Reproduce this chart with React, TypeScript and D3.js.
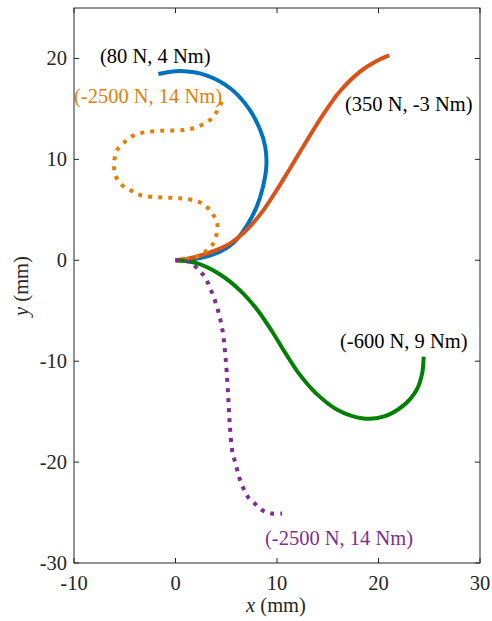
import React from "react";
import * as d3 from "d3";

const xTicks = [-10, 0, 10, 20, 30];
const yTicks = [-30, -20, -10, 0, 10, 20];

// (80 N, 4 Nm)
const blueX = [0, 1.75, 4.06, 5.69, 7.0, 8.0, 8.6, 8.95, 8.85, 8.35, 7.25, 5.45, 3.1, 0.5, -1.69];
const blueY = [0, 0.1, 0.7, 1.7, 3.4, 5.3, 7.2, 9.3, 11.2, 12.9, 15.0, 17.0, 18.3, 18.75, 18.46];

// (350 N, -3 Nm)
const redX = [0, 1.75, 4.06, 5.5, 7.0, 8.5, 10.0, 11.28, 12.93, 14.56, 16.2, 18.18, 19.82, 21.06];
const redY = [0, 0.27, 1.03, 1.75, 3.0, 4.75, 7.0, 9.1, 11.85, 14.45, 16.75, 18.7, 19.75, 20.3];

// (-600 N, 9 Nm)
const greenX = [0, 2.08, 4.35, 6.36, 8.07, 9.52, 10.88, 12.26, 13.83, 15.88, 18.5, 20.47, 22.44, 23.75, 24.3, 24.45];
const greenY = [0, -0.29, -1.38, -2.98, -4.92, -7.06, -9.28, -11.36, -13.17, -14.78, -15.67, -15.5, -14.4, -12.85, -11.2, -9.55];

// (-2500 N, 14 Nm) orange dotted
const orangeX = [0, 2.09, 3.72, 4.12, 3.72, 3.07, 2.25, 0.44, -1.53, -3.5, -4.48, -5.3, -5.86, -6.06, -5.96, -5.64, -4.98, -4.16, -3.17, -1.36, 0.77, 1.75, 2.58, 3.4, 4.06, 4.55];
const orangeY = [0, 0.36, 1.67, 3.65, 4.49, 5.31, 5.81, 6.14, 6.24, 6.47, 6.97, 7.47, 8.29, 9.28, 10.27, 11.1, 11.75, 12.35, 12.65, 12.84, 12.91, 13.08, 13.4, 13.9, 14.72, 15.72];

// (-2500 N, 14 Nm) purple dotted
const purpleX = [0, 1.26, 2.74, 3.56, 4.22, 4.65, 4.88, 5.04, 5.2, 5.35, 5.57, 5.8, 6.06, 6.3, 6.65, 7.1, 7.8, 8.6, 9.5, 10.5];
const purpleY = [0, -0.14, -1.46, -3.11, -5.09, -7.07, -9.05, -11.03, -13.67, -16.3, -18.76, -19.75, -20.7, -21.6, -22.5, -23.4, -24.1, -24.8, -25.1, -25.1];

const labels = ["(80 N, 4 Nm)", "(-2500 N, 14 Nm)", "(350 N, -3 Nm)", "(-600 N, 9 Nm)", "(-2500 N, 14 Nm)"];

const W = 492, H = 621;
const L = 74, R = 480, T = 8, B = 563;
const FONT = "Liberation Serif";
const AX = "#262626";

export default function App() {
  const x = d3.scaleLinear().domain([-10, 30]).range([L, R]);
  const y = d3.scaleLinear().domain([-30, 25]).range([B, T]);
  const line = d3.line<[number, number]>()
    .x(d => x(d[0])).y(d => y(d[1]))
    .curve(d3.curveCatmullRom.alpha(0.5));
  const pts = (xs: number[], ys: number[]) => xs.map((v, i) => [v, ys[i]] as [number, number]);

  const series = [
    { d: pts(blueX, blueY), c: "#0072BD", dash: undefined },
    { d: pts(redX, redY), c: "#D95319", dash: undefined },
    { d: pts(greenX, greenY), c: "#008000", dash: undefined },
    { d: pts(orangeX, orangeY), c: "#E0820A", dash: "4 6" },
    { d: pts(purpleX, purpleY), c: "#7E2F8E", dash: "4 6" },
  ];
  const tl = 5;
  const ts = { fontFamily: FONT, fontSize: "20.5px" };

  return (
    <svg width={W} height={H} style={{ position: "absolute", left: 0, top: 0, background: "#fff" }}>
      <rect x={0} y={0} width={W} height={H} fill="#fff" />
      <defs>
        <clipPath id="plot"><rect x={L} y={T} width={R - L} height={B - T} /></clipPath>
      </defs>
      <g clipPath="url(#plot)">
        {series.map((s, i) => (
          <path key={i} d={line(s.d) || ""} fill="none" stroke={s.c} strokeWidth={4}
            strokeDasharray={s.dash} strokeLinecap="butt" strokeLinejoin="round" />
        ))}
      </g>
      <text x={100} y={63} fill="#000" style={ts}>{labels[0]}</text>
      <text x={74} y={103} fill="#E0820A" style={ts}>{labels[1]}</text>
      <text x={345} y={111} fill="#000" style={ts}>{labels[2]}</text>
      <text x={340} y={348} fill="#000" style={ts}>{labels[3]}</text>
      <text x={265} y={545} fill="#7E2F8E" style={ts}>{labels[4]}</text>
      <rect x={L} y={T} width={R - L} height={B - T} fill="none" stroke={AX} strokeWidth={1} />
      <g stroke={AX} strokeWidth={1}>
        {xTicks.map(t => (
          <g key={"x" + t}>
            <line x1={x(t)} x2={x(t)} y1={B} y2={B - tl} />
            <line x1={x(t)} x2={x(t)} y1={T} y2={T + tl} />
          </g>
        ))}
        {yTicks.map(t => (
          <g key={"y" + t}>
            <line x1={L} x2={L + tl} y1={y(t)} y2={y(t)} />
            <line x1={R} x2={R - tl} y1={y(t)} y2={y(t)} />
          </g>
        ))}
      </g>
      {xTicks.map(t => (
        <text key={"xl" + t} x={x(t)} y={590} textAnchor="middle" fill={AX} style={ts}>{t}</text>
      ))}
      {yTicks.map(t => (
        <text key={"yl" + t} x={67} y={y(t) + 7} textAnchor="end" fill={AX} style={ts}>{t}</text>
      ))}
      <text x={276} y={612} textAnchor="middle" fill={AX} style={ts}>
        <tspan fontStyle="italic">x</tspan> (mm)
      </text>
      <text transform="translate(28,286) rotate(-90)" textAnchor="middle" fill={AX} style={ts}>
        <tspan fontStyle="italic">y</tspan> (mm)
      </text>
    </svg>
  );
}
